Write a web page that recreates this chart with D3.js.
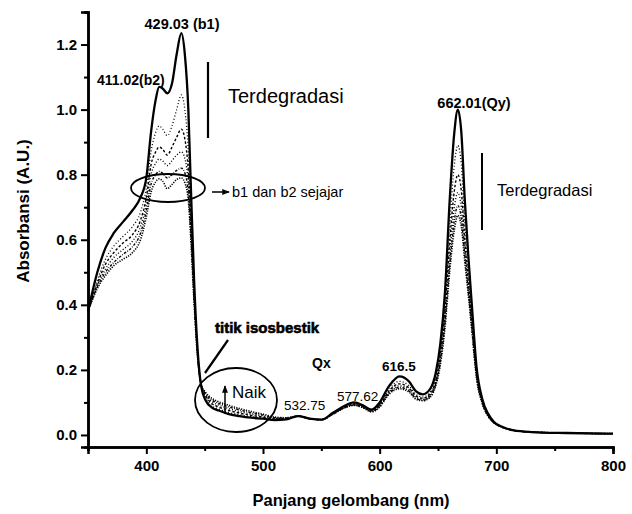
<!DOCTYPE html>
<html><head><meta charset="utf-8">
<script src="https://cdn.jsdelivr.net/npm/d3@7"></script>
<style>
html,body{margin:0;padding:0;background:#fff;}
svg{display:block;font-family:Arial,"Liberation Sans",sans-serif;}
</style></head>
<body><svg id="c" width="632" height="514"></svg>
<script>
const wavelengths = [350,358,365,372,380,388,395,400,404,408,411,414,418,422,426,430,433,436,438,441,444,447,451,456,462,470,480,490,500,510,520,530,540,550,560,570,578,586,593,600,608,617,625,631,637,643,648,652,656,660,664,667,670,673,676,679,683,688,693,698,705,715,730,760,800];

const s0 = [0.38,0.50,0.575,0.62,0.655,0.69,0.73,0.79,0.93,1.03,1.07,1.065,1.05,1.08,1.17,1.235,1.17,1.00,0.78,0.47,0.26,0.15,0.105,0.085,0.075,0.065,0.058,0.053,0.05,0.046,0.048,0.058,0.05,0.047,0.068,0.09,0.1,0.09,0.078,0.1,0.15,0.18,0.165,0.135,0.125,0.14,0.19,0.28,0.44,0.72,0.93,1.0,0.93,0.72,0.55,0.4,0.21,0.11,0.065,0.04,0.025,0.014,0.009,0.006,0.004];
const s1 = [0.38,0.475,0.54,0.58,0.61,0.64,0.685,0.76,0.87,0.93,0.95,0.94,0.92,0.95,1.0,1.045,1.0,0.87,0.7,0.44,0.25,0.155,0.115,0.09,0.08,0.07,0.062,0.056,0.052,0.047,0.049,0.058,0.05,0.047,0.067,0.088,0.097,0.088,0.076,0.095,0.14,0.165,0.152,0.125,0.117,0.13,0.175,0.26,0.41,0.64,0.83,0.89,0.83,0.65,0.5,0.37,0.2,0.105,0.062,0.039,0.024,0.014,0.009,0.006,0.004];
const s2 = [0.38,0.465,0.525,0.56,0.59,0.615,0.66,0.73,0.83,0.87,0.885,0.878,0.86,0.885,0.915,0.94,0.91,0.81,0.67,0.43,0.25,0.155,0.12,0.097,0.086,0.076,0.067,0.06,0.055,0.049,0.05,0.058,0.05,0.047,0.066,0.086,0.095,0.086,0.074,0.092,0.135,0.157,0.145,0.12,0.113,0.125,0.165,0.245,0.38,0.59,0.75,0.8,0.75,0.6,0.47,0.35,0.19,0.1,0.06,0.038,0.024,0.014,0.009,0.006,0.004];
const s3 = [0.38,0.46,0.51,0.545,0.57,0.595,0.64,0.71,0.8,0.835,0.848,0.842,0.828,0.843,0.86,0.87,0.85,0.77,0.645,0.42,0.245,0.155,0.123,0.103,0.092,0.082,0.072,0.064,0.058,0.051,0.051,0.058,0.05,0.047,0.065,0.085,0.093,0.085,0.073,0.09,0.131,0.151,0.14,0.116,0.11,0.121,0.16,0.235,0.36,0.55,0.7,0.745,0.7,0.57,0.45,0.34,0.185,0.1,0.059,0.038,0.024,0.014,0.009,0.006,0.004];
const s4 = [0.38,0.455,0.5,0.53,0.555,0.578,0.62,0.69,0.77,0.8,0.81,0.804,0.79,0.8,0.813,0.82,0.805,0.74,0.625,0.41,0.24,0.155,0.126,0.108,0.097,0.087,0.077,0.068,0.061,0.053,0.052,0.058,0.05,0.047,0.064,0.084,0.092,0.084,0.072,0.088,0.128,0.146,0.136,0.113,0.107,0.118,0.155,0.225,0.345,0.52,0.66,0.705,0.665,0.55,0.44,0.33,0.18,0.098,0.058,0.037,0.024,0.014,0.009,0.006,0.004];
const s5 = [0.38,0.45,0.49,0.52,0.54,0.56,0.6,0.67,0.745,0.778,0.787,0.78,0.757,0.77,0.785,0.79,0.775,0.72,0.61,0.4,0.235,0.155,0.13,0.113,0.102,0.092,0.081,0.072,0.064,0.055,0.053,0.058,0.05,0.047,0.064,0.083,0.091,0.083,0.071,0.086,0.125,0.142,0.132,0.11,0.105,0.115,0.15,0.215,0.33,0.5,0.63,0.675,0.64,0.53,0.43,0.32,0.175,0.096,0.057,0.037,0.024,0.014,0.009,0.006,0.004];

const xTicks = [400,500,600,700,800];
const yTicks = [0.0,0.2,0.4,0.6,0.8,1.0,1.2];

const svg = d3.select("#c");
const x = d3.scaleLinear().domain([350,800]).range([88,613]);
const y = d3.scaleLinear().domain([-0.037,1.3]).range([447,12]);

const series = [
  {v:s5, dash:"1.2,1.3", w:1.6},
  {v:s4, dash:"2.5,1.5,0.8,1.5", w:1.4},
  {v:s3, dash:"1,2", w:1.4},
  {v:s2, dash:"2.5,2", w:1.4},
  {v:s1, dash:"1,2.2", w:1.3},
  {v:s0, dash:null, w:2.3}
];
const line = d3.line().x((d,i)=>x(wavelengths[i])).y(d=>y(d)).curve(d3.curveMonotoneX);
series.forEach(s=>{
  svg.append("path").attr("d",line(s.v)).attr("fill","none").attr("stroke","#000")
    .attr("stroke-width",s.w).attr("stroke-dasharray",s.dash).attr("stroke-linejoin","round");
});

// axes
const fmt = d3.format(".1f");
const yAx = svg.append("g").attr("transform","translate(88,0)")
  .call(d3.axisLeft(y).tickValues(yTicks).tickFormat(fmt).tickSize(7).tickPadding(4));
const yMin = svg.append("g").attr("transform","translate(88,0)")
  .call(d3.axisLeft(y).tickValues([0.1,0.3,0.5,0.7,0.9,1.1,1.3]).tickFormat("").tickSize(4));
const xAx = svg.append("g").attr("transform","translate(0,447)")
  .call(d3.axisBottom(x).tickValues(xTicks).tickSize(7).tickPadding(6));
const xMin = svg.append("g").attr("transform","translate(0,447)")
  .call(d3.axisBottom(x).tickValues([350,450,550,650,750]).tickFormat("").tickSize(4));
[yAx,yMin,xAx,xMin].forEach(g=>{
  g.select(".domain").attr("stroke","#000").attr("stroke-width",2.5);
  g.selectAll(".tick line").attr("stroke","#000").attr("stroke-width",2);
  g.selectAll(".tick text").attr("fill","#000").attr("font-size",15).attr("font-weight","bold")
   .attr("font-family","Arial, 'Liberation Sans', sans-serif");
});
// axis titles
svg.append("text").attr("transform","translate(29,211) rotate(-90)").attr("text-anchor","middle")
  .attr("font-size",17).attr("font-weight","bold").text("Absorbansi (A.U.)");
svg.append("text").attr("x",351).attr("y",506).attr("text-anchor","middle")
  .attr("font-size",16.5).attr("font-weight","bold").text("Panjang gelombang (nm)");

// annotations
function txt(xp,yp,t,size,bold,anchor){
  return svg.append("text").attr("x",xp).attr("y",yp).attr("font-size",size)
    .attr("font-weight",bold?"bold":"normal").attr("text-anchor",anchor||"start").text(t);
}
txt(182,29,"429.03 (b1)",14.5,true,"middle");
txt(97,85,"411.02(b2)",14,false).attr("font-weight","600");
txt(228,103,"Terdegradasi",20,false);
txt(497,196,"Terdegradasi",16.5,false);
txt(474,108,"662.01(Qy)",14.5,true,"middle");
txt(232,197,"b1 dan b2 sejajar",14.5,false);
txt(215,333,"titik isosbestik",15,true).attr("stroke","#000").attr("stroke-width",0.6);
txt(312,368,"Qx",14,true);
txt(232,398,"Naik",17,false);
txt(284,410,"532.75",13.5,false);
txt(337,401,"577.62",13.5,false);
txt(382,371,"616.5",13.5,true);

// vertical degradation bars
svg.append("line").attr("x1",208).attr("x2",208).attr("y1",62).attr("y2",138).attr("stroke","#000").attr("stroke-width",2.2);
svg.append("line").attr("x1",482).attr("x2",482).attr("y1",153).attr("y2",230).attr("stroke","#000").attr("stroke-width",2);

// ellipses
svg.append("ellipse").attr("cx",168).attr("cy",188).attr("rx",37).attr("ry",14).attr("fill","none").attr("stroke","#000").attr("stroke-width",1.8);
svg.append("ellipse").attr("cx",236).attr("cy",400).attr("rx",41).attr("ry",32).attr("fill","none").attr("stroke","#000").attr("stroke-width",1.8);

// arrows
const defs = svg.append("defs");
defs.append("marker").attr("id","ah").attr("viewBox","0 0 10 10").attr("refX",9).attr("refY",5)
  .attr("markerWidth",5).attr("markerHeight",5).attr("orient","auto")
  .append("path").attr("d","M0,1 L10,5 L0,9 Z").attr("fill","#000");
svg.append("line").attr("x1",212).attr("x2",229).attr("y1",192).attr("y2",192).attr("stroke","#000").attr("stroke-width",1.5).attr("marker-end","url(#ah)");
svg.append("line").attr("x1",228).attr("x2",205).attr("y1",340).attr("y2",373).attr("stroke","#000").attr("stroke-width",2.2);
svg.append("line").attr("x1",225).attr("x2",225).attr("y1",414).attr("y2",386).attr("stroke","#000").attr("stroke-width",1.5).attr("marker-end","url(#ah)");
</script></body></html>
